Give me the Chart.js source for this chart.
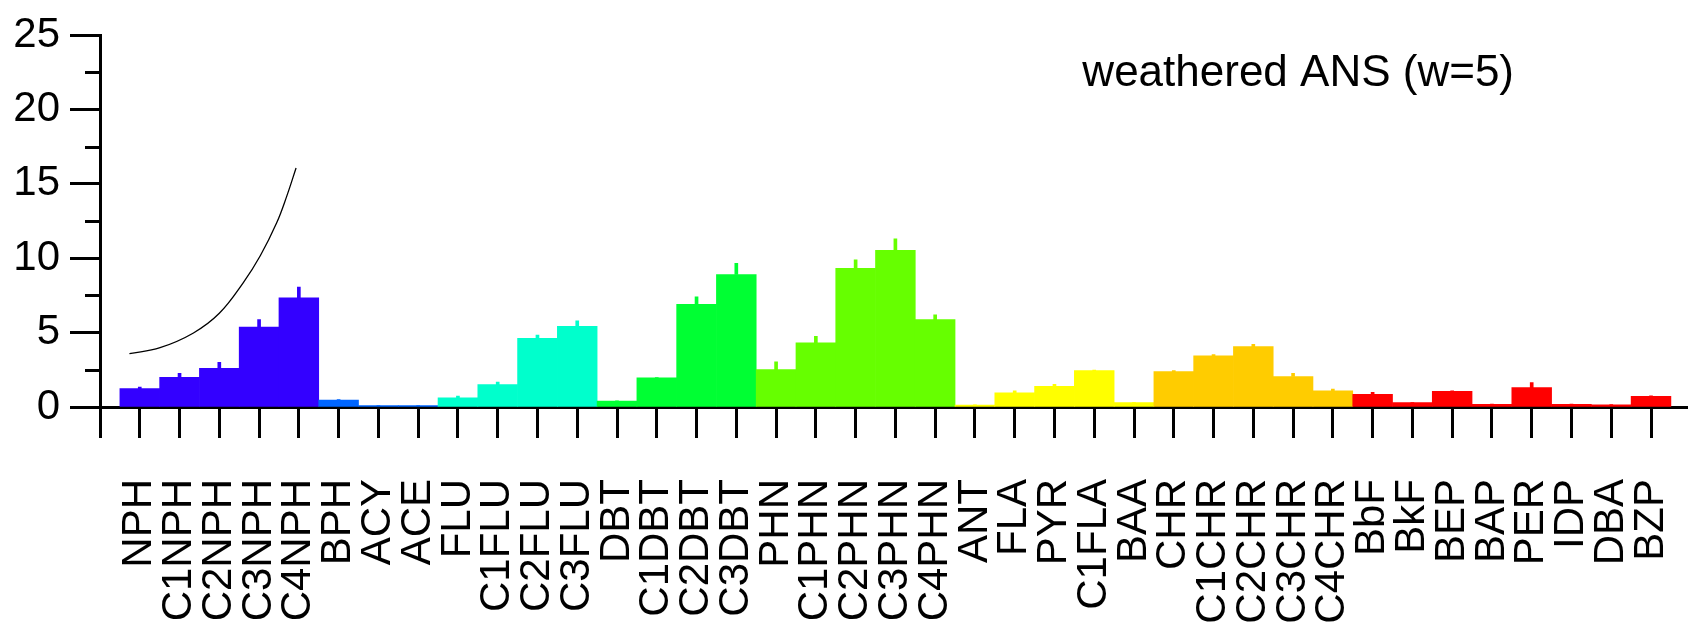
<!DOCTYPE html>
<html lang="en">
  <head>
    <meta charset="UTF-8" />
    <title>weathered ANS (w=5)</title>
    <script src="https://cdn.jsdelivr.net/npm/chart.js"></script>
    <style>
      html, body { margin: 0; padding: 0; background: #fff; }
      #wrap { width: 1688px; height: 626px; }
    </style>
  </head>
  <body>
    <div id="wrap"><canvas id="chart"></canvas></div>

    <script>
      const titleText = "weathered ANS (w=5)";

      const compounds = [
        "NPH", "C1NPH", "C2NPH", "C3NPH", "C4NPH", "BPH", "ACY", "ACE",
        "FLU", "C1FLU", "C2FLU", "C3FLU", "DBT", "C1DBT", "C2DBT", "C3DBT",
        "PHN", "C1PHN", "C2PHN", "C3PHN", "C4PHN", "ANT", "FLA", "PYR",
        "C1FLA", "BAA", "CHR", "C1CHR", "C2CHR", "C3CHR", "C4CHR", "BbF",
        "BkF", "BEP", "BAP", "PER", "IDP", "DBA", "BZP"
      ];

      // compound class of each bar
      const groups = [
        "NPH", "NPH", "NPH", "NPH", "NPH", "BPH", "BPH", "BPH",
        "FLU", "FLU", "FLU", "FLU", "DBT", "DBT", "DBT", "DBT",
        "PHN", "PHN", "PHN", "PHN", "PHN", "PYR", "PYR", "PYR",
        "PYR", "PYR", "CHR", "CHR", "CHR", "CHR", "CHR", "HMW",
        "HMW", "HMW", "HMW", "HMW", "HMW", "HMW", "HMW"
      ];

      const values = [
        1.24, 2.0, 2.6, 5.38, 7.34, 0.46, 0.09, 0.09,
        0.62, 1.5, 4.61, 5.42, 0.4, 1.96, 6.9, 8.91,
        2.51, 4.32, 9.33, 10.54, 5.87, 0.13, 0.95, 1.39,
        2.45, 0.29, 2.38, 3.44, 4.06, 2.05, 1.08, 0.86,
        0.29, 1.06, 0.18, 1.3, 0.18, 0.15, 0.71
      ];

      // top of the error bar for each compound
      const errorTop = [
        1.34, 2.27, 3.0, 5.87, 8.07, 0.5, 0.1, 0.1,
        0.73, 1.67, 4.83, 5.8, 0.42, 1.98, 7.41, 9.66,
        3.04, 4.76, 9.9, 11.31, 6.2, 0.14, 1.08, 1.52,
        2.48, 0.3, 2.45, 3.53, 4.21, 2.27, 1.21, 0.99,
        0.3, 1.08, 0.19, 1.65, 0.19, 0.16, 0.75
      ];

      // thin curve over the NPH series (x in bar index units)
      const curveX = [-0.26, 0.51, 1.35, 2.0, 2.6, 3.03, 3.44, 3.69, 3.93];
      const curveY = [3.59, 3.99, 4.98, 6.3, 8.35, 10.17, 12.37, 14.13, 16.07];

      const yMinor = [2.5, 7.5, 12.5, 17.5, 22.5];

      const groupColors = {
        NPH: "#3300ff",
        BPH: "#0066ff",
        FLU: "#00ffcc",
        DBT: "#00ff33",
        PHN: "#66ff00",
        PYR: "#ffff00",
        CHR: "#ffcc00",
        HMW: "#ff0000",
      };

      const FONT = "'Liberation Sans', Arial, sans-serif";

      const cornerTitle = {
        id: "cornerTitle",
        afterDraw(chart) {
          const { ctx, chartArea } = chart;
          ctx.save();
          ctx.font = "44px " + FONT;
          ctx.fillStyle = "#000";
          ctx.textAlign = "right";
          ctx.textBaseline = "middle";
          ctx.fillText(titleText, chartArea.right - 174, chartArea.top + 39);
          ctx.restore();
        },
      };

      // short ticks between the labelled ones on the y axis
      const minorTicks = {
        id: "minorTicks",
        afterDraw(chart) {
          const { ctx } = chart;
          const y = chart.scales.y;
          ctx.save();
          ctx.strokeStyle = "#000";
          ctx.lineWidth = 3;
          yMinor.forEach((v) => {
            const py = Math.round(y.getPixelForValue(v)) + 0.5;
            ctx.beginPath();
            ctx.moveTo(y.right - 15, py);
            ctx.lineTo(y.right, py);
            ctx.stroke();
          });
          ctx.restore();
        },
      };

      function createChart() {
        const colors = groups.map((g) => groupColors[g]);

        new Chart(document.getElementById("chart"), {
          type: "bar",
          data: {
            datasets: [
              {
                type: "line",
                data: curveX.map((x, i) => ({ x: x, y: curveY[i] })),
                borderColor: "#000",
                borderWidth: 1.3,
                pointRadius: 0,
                tension: 0.4,
                order: 0,
              },
              {
                data: errorTop.map((e, i) => ({ x: i, y: [values[i], e] })),
                backgroundColor: colors,
                barThickness: 3,
                grouped: false,
                order: 1,
              },
              {
                data: values.map((v, i) => ({ x: i, y: v })),
                backgroundColor: colors,
                borderWidth: 0,
                barPercentage: 1,
                categoryPercentage: 1,
                grouped: false,
                order: 2,
              },
            ],
          },
          options: {
            responsive: true,
            maintainAspectRatio: false,
            animation: false,
            layout: { padding: 0 },
            plugins: {
              legend: { display: false },
              tooltip: { enabled: false },
            },
            scales: {
              x: {
                type: "linear",
                position: "bottom",
                offset: false,
                min: -1,
                max: 38.93,
                afterFit: (scale) => {
                  scale.height = 219;
                  scale.paddingLeft = 0;
                  scale.paddingRight = 0;
                },
                ticks: {
                  stepSize: 1,
                  autoSkip: false,
                  includeBounds: false,
                  minRotation: 90,
                  maxRotation: 90,
                  padding: 41,
                  color: "#000",
                  font: { size: 42, family: FONT },
                  callback: (v) => compounds[v] || "",
                },
                grid: {
                  offset: false,
                  drawOnChartArea: false,
                  drawTicks: true,
                  tickLength: 31,
                  tickWidth: 3,
                  tickColor: "#000",
                },
                border: { display: true, color: "#000", width: 3 },
              },
              y: {
                min: 0,
                max: 25,
                afterFit: (scale) => {
                  scale.width = 100;
                },
                ticks: {
                  stepSize: 5,
                  padding: 10,
                  color: "#000",
                  font: { size: 42, family: FONT },
                },
                grid: {
                  drawOnChartArea: false,
                  drawTicks: true,
                  tickLength: 30,
                  tickWidth: 3,
                  tickColor: "#000",
                },
                border: { display: true, color: "#000", width: 3 },
              },
            },
          },
          plugins: [cornerTitle, minorTicks],
        });
      }

      document.addEventListener("DOMContentLoaded", createChart);
    </script>
  </body>
</html>
